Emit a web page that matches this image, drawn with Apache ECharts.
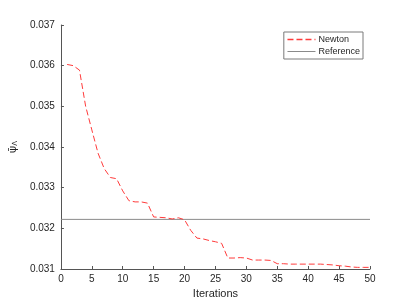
<!DOCTYPE html>
<html>
<head>
<meta charset="utf-8">
<script src="https://cdn.jsdelivr.net/npm/echarts@6/dist/echarts.min.js"></script>
<style>
html,body{margin:0;padding:0;background:#fff;}
#c{width:407px;height:305px;}
</style>
</head>
<body>
<div id="c"></div>
<script>
const iterations = [1,2,3,4,5,6,7,8,9,10,11,12,13,14,15,16,17,18,19,20,21,22,23,24,25,26,27,28,29,30,31,32,33,34,35,36,37,38,39,40,41,42,43,44,45,46,47,48,49,50];
const newtonValues = [0.03603,0.03600,0.03589,0.03500,0.03442,0.03385,0.03347,0.03325,0.03322,0.03292,0.03268,0.03265,0.03265,0.03262,0.03228,0.03227,0.03226,0.03223,0.03226,0.03221,0.03195,0.03176,0.03174,0.03170,0.03167,0.03163,0.03127,0.03127,0.03128,0.03127,0.03122,0.03122,0.03122,0.03121,0.03113,0.03113,0.03112,0.03112,0.03112,0.03112,0.03112,0.03112,0.03111,0.03110,0.03108,0.03107,0.03105,0.03104,0.03104,0.03104];
const referenceX = [0, 50];
const referenceValue = 0.03222;
const seriesNames = ['Newton', 'Reference'];
const xTicks = [0,5,10,15,20,25,30,35,40,45,50];
const yTicks = [0.031,0.032,0.033,0.034,0.035,0.036,0.037];

const chart = echarts.init(document.getElementById('c'), null, {renderer:'canvas'});
const axisColor = '#555555';
const textColor = '#262626';
const font = 'Liberation Sans, Arial, Helvetica, sans-serif';
const newtonColor = '#ff3b3b';
const refColor = '#8a8a8a';

chart.setOption({
  animation: false,
  backgroundColor: '#ffffff',
  grid: {left: 51, right: 37, top: 25, bottom: 36, containLabel: false},
  legend: {
    right: 44, top: 32,
    orient: 'vertical',
    itemWidth: 28, itemHeight: 8, itemGap: 3,
    padding: [3, 3, 3, 3],
    borderColor: '#7a7a7a', borderWidth: 1,
    backgroundColor: '#ffffff',
    itemStyle: {opacity: 0},
    textStyle: {fontSize: 9, color: textColor, fontFamily: font, padding: [0,0,0,-2]},
    data: [
      {name: seriesNames[0], lineStyle: {color: newtonColor, width: 1.3, type: [6, 3]}},
      {name: seriesNames[1], lineStyle: {color: refColor, width: 1, type: 'solid'}}
    ]
  },
  xAxis: {
    type: 'value', min: xTicks[0], max: xTicks[xTicks.length-1], interval: 5,
    name: 'Iterations', nameLocation: 'middle', nameGap: 19,
    nameTextStyle: {fontSize: 11, color: textColor, fontFamily: font},
    axisLine: {lineStyle: {color: axisColor, width: 1}},
    axisTick: {inside: true, length: 3, lineStyle: {color: axisColor}},
    axisLabel: {fontSize: 10, color: textColor, fontFamily: font, margin: 5},
    splitLine: {show: false}
  },
  yAxis: {
    type: 'value', min: yTicks[0], max: yTicks[yTicks.length-1], interval: 0.001,
    name: '{a|ψ̄}{b|Λ}', nameLocation: 'middle', nameGap: 38, nameRotate: 90,
    nameTextStyle: {
      rich: {
        a: {fontSize: 11, color: textColor, fontFamily: 'DejaVu Sans, sans-serif'},
        b: {fontSize: 7, color: textColor, fontFamily: 'DejaVu Sans, sans-serif', verticalAlign: 'bottom', padding: [4,0,0,0]}
      }
    },
    axisLine: {show: true, lineStyle: {color: axisColor, width: 1}},
    axisTick: {show: true, inside: true, length: 3, lineStyle: {color: axisColor}},
    axisLabel: {fontSize: 10, color: textColor, fontFamily: font, margin: 6,
      formatter: v => v.toFixed(3)},
    splitLine: {show: false}
  },
  series: [
    {
      name: seriesNames[0], type: 'line', showSymbol: false, symbol: 'none',
      data: iterations.map((x, i) => [x, newtonValues[i]]),
      lineStyle: {color: newtonColor, width: 1, type: [6, 3]},
      itemStyle: {color: newtonColor},
      z: 3
    },
    {
      name: seriesNames[1], type: 'line', showSymbol: false, symbol: 'none',
      data: referenceX.map(x => [x, referenceValue]),
      lineStyle: {color: refColor, width: 1, type: 'solid'},
      itemStyle: {color: refColor},
      z: 2
    }
  ]
});
</script>
</body>
</html>
